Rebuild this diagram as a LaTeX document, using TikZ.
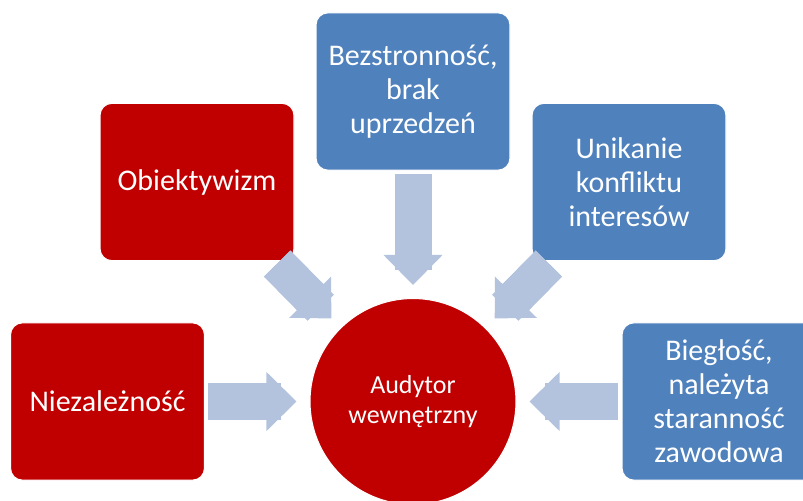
\documentclass[tikz,border=0pt]{standalone}
\usepackage{fontspec}
\setmainfont{Carlito}
\usetikzlibrary{arrows.meta}
\definecolor{boxred}{HTML}{C00000}
\definecolor{boxblue}{HTML}{4F81BD}
\definecolor{flowblue}{HTML}{B3C3DD}

\begin{document}
\begin{tikzpicture}[
  x=0.75pt, y=-0.75pt,
  box/.style={draw=white, line width=0.8pt, rounded corners=9pt, minimum width=145.5pt, minimum height=118pt, align=center, text=white, font=\fontsize{22.5}{25.5}\selectfont},
  redbox/.style={box, fill=boxred},
  bluebox/.style={box, fill=boxblue},
  auditor/.style={circle, draw=white, line width=0.8pt, fill=boxred, minimum size=154.5pt, inner sep=0pt, align=center, text=white, font=\fontsize{19.5}{22.5}\selectfont},
  flow/.style={draw=flowblue, line width=27.75pt, -{Triangle[width=44.25pt, length=22.5pt, line width=0pt]}, shorten <=2.5pt, shorten >=9.75pt},
  flowshaft/.style={draw=flowblue, line width=27.75pt, shorten <=2.5pt, shorten >=21pt}
]
\useasboundingbox (0,0) rectangle (803,500);

\node[auditor] (aud) at (413,401.5) {Audytor\\wewnętrzny};

\node[redbox]  (niez) at (107.5,401.5) {Niezależność};
\node[redbox]  (obj)  at (197,182)     {Obiektywizm};
\node[bluebox] (bez)  at (413,91.5)    {Bezstronność,\\brak\\uprzedzeń};
\node[bluebox] (unik) at (629,182)     {Unikanie\\konfliktu\\interesów};
\node[bluebox] (bieg) at (719,401.5)   {Biegłość,\\należyta\\staranność\\zawodowa};

% block arrows: head + shaft laid over it
\foreach \a in {niez,obj,bez,unik,bieg} {
  \draw[flow] (\a) -- (aud);
  \draw[flowshaft] (\a) -- (aud);
}

\end{tikzpicture}
\end{document}
